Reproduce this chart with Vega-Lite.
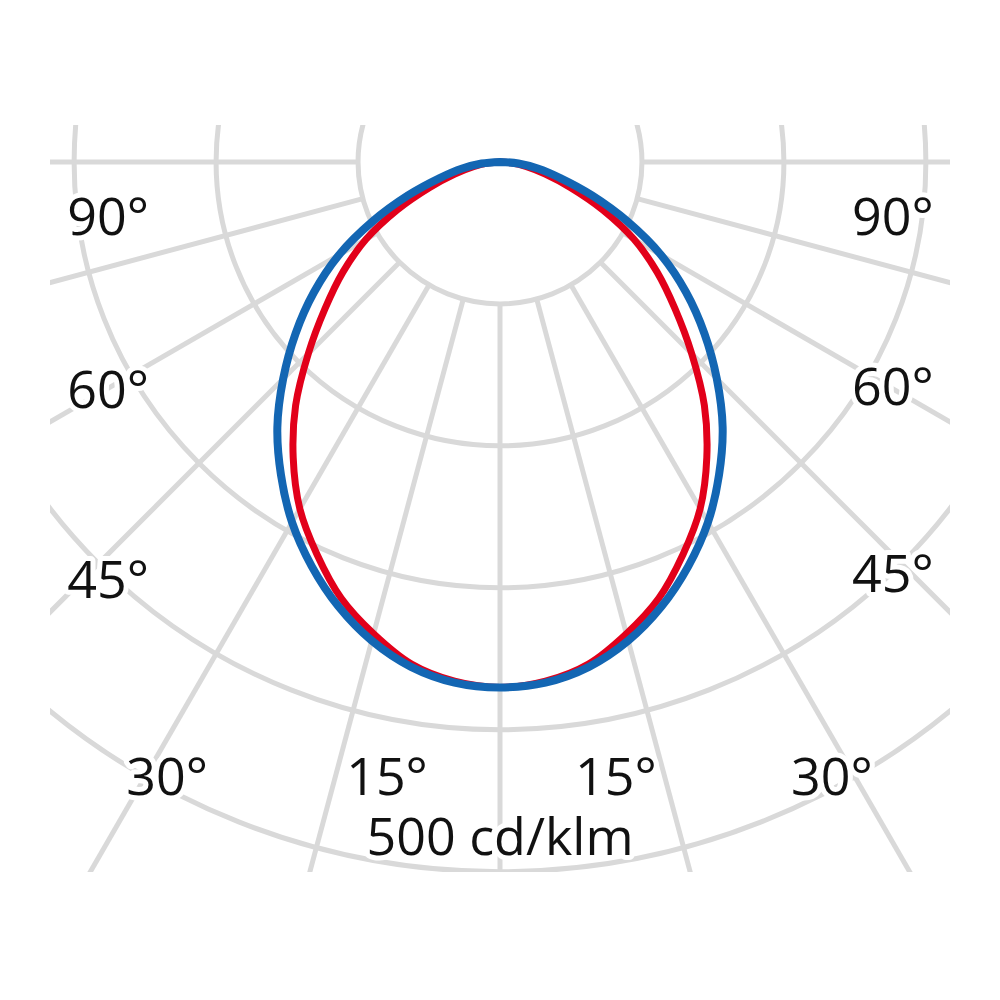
{
  "$schema": "https://vega.github.io/schema/vega-lite/v6.json",
  "width": 900,
  "height": 747,
  "autosize": {"type": "none"},
  "padding": {"left": 50, "top": 125, "right": 50, "bottom": 128},
  "background": "white",
  "config": {"view": {"stroke": null}},
  "datasets": {
    "curves": [
      {"s": "red", "a": -90, "i": 0}, {"s": "red", "a": -85, "i": 8}, {"s": "red", "a": -80, "i": 19}, {"s": "red", "a": -75, "i": 33},
      {"s": "red", "a": -70, "i": 53}, {"s": "red", "a": -65, "i": 80}, {"s": "red", "a": -60, "i": 109}, {"s": "red", "a": -55, "i": 135},
      {"s": "red", "a": -50, "i": 161}, {"s": "red", "a": -45, "i": 191}, {"s": "red", "a": -40, "i": 224}, {"s": "red", "a": -35, "i": 254},
      {"s": "red", "a": -30, "i": 282}, {"s": "red", "a": -25, "i": 305}, {"s": "red", "a": -20, "i": 327}, {"s": "red", "a": -15, "i": 344},
      {"s": "red", "a": -10, "i": 359}, {"s": "red", "a": -5, "i": 367}, {"s": "red", "a": 0, "i": 370}, {"s": "red", "a": 5, "i": 367},
      {"s": "red", "a": 10, "i": 359}, {"s": "red", "a": 15, "i": 344}, {"s": "red", "a": 20, "i": 327}, {"s": "red", "a": 25, "i": 305},
      {"s": "red", "a": 30, "i": 282}, {"s": "red", "a": 35, "i": 254}, {"s": "red", "a": 40, "i": 224}, {"s": "red", "a": 45, "i": 191},
      {"s": "red", "a": 50, "i": 161}, {"s": "red", "a": 55, "i": 135}, {"s": "red", "a": 60, "i": 109}, {"s": "red", "a": 65, "i": 80},
      {"s": "red", "a": 70, "i": 53}, {"s": "red", "a": 75, "i": 33}, {"s": "red", "a": 80, "i": 19}, {"s": "red", "a": 85, "i": 8},
      {"s": "red", "a": 90, "i": 0},
      {"s": "blue", "a": -90, "i": 0}, {"s": "blue", "a": -85, "i": 13}, {"s": "blue", "a": -80, "i": 27}, {"s": "blue", "a": -75, "i": 44},
      {"s": "blue", "a": -70, "i": 69}, {"s": "blue", "a": -65, "i": 99}, {"s": "blue", "a": -60, "i": 131}, {"s": "blue", "a": -55, "i": 160},
      {"s": "blue", "a": -50, "i": 188}, {"s": "blue", "a": -45, "i": 216}, {"s": "blue", "a": -40, "i": 244}, {"s": "blue", "a": -35, "i": 269},
      {"s": "blue", "a": -30, "i": 293}, {"s": "blue", "a": -25, "i": 314}, {"s": "blue", "a": -20, "i": 333}, {"s": "blue", "a": -15, "i": 349},
      {"s": "blue", "a": -10, "i": 361}, {"s": "blue", "a": -5, "i": 368}, {"s": "blue", "a": 0, "i": 370}, {"s": "blue", "a": 5, "i": 368},
      {"s": "blue", "a": 10, "i": 361}, {"s": "blue", "a": 15, "i": 349}, {"s": "blue", "a": 20, "i": 333}, {"s": "blue", "a": 25, "i": 314},
      {"s": "blue", "a": 30, "i": 293}, {"s": "blue", "a": 35, "i": 269}, {"s": "blue", "a": 40, "i": 244}, {"s": "blue", "a": 45, "i": 216},
      {"s": "blue", "a": 50, "i": 188}, {"s": "blue", "a": 55, "i": 160}, {"s": "blue", "a": 60, "i": 131}, {"s": "blue", "a": 65, "i": 99},
      {"s": "blue", "a": 70, "i": 69}, {"s": "blue", "a": 75, "i": 44}, {"s": "blue", "a": 80, "i": 27}, {"s": "blue", "a": 85, "i": 13},
      {"s": "blue", "a": 90, "i": 0}
    ],
    "rings": [{"r": 100}, {"r": 200}, {"r": 300}, {"r": 400}, {"r": 500}],
    "spokes": [
      {"a": -90}, {"a": -75}, {"a": -60}, {"a": -45}, {"a": -30}, {"a": -15}, {"a": 0},
      {"a": 15}, {"a": 30}, {"a": 45}, {"a": 60}, {"a": 75}, {"a": 90}
    ],
    "labels": [
      {"t": "90°", "lx": -276.1, "ly": -51.4},
      {"t": "60°", "lx": -276.1, "ly": -173.2},
      {"t": "45°", "lx": -276.1, "ly": -307},
      {"t": "30°", "lx": -234.5, "ly": -445.8},
      {"t": "15°", "lx": -79.6, "ly": -445.8},
      {"t": "500 cd/klm", "lx": 0, "ly": -488},
      {"t": "15°", "lx": 81.7, "ly": -445.8},
      {"t": "30°", "lx": 233.8, "ly": -445.8},
      {"t": "45°", "lx": 276.8, "ly": -302.8},
      {"t": "60°", "lx": 276.8, "ly": -171.1},
      {"t": "90°", "lx": 276.8, "ly": -51.4}
    ]
  },
  "layer": [
    {
      "data": {"name": "rings"},
      "mark": {"type": "arc", "filled": false, "stroke": "#d9d9d9", "strokeWidth": 5, "theta": 0, "theta2": 6.2832, "clip": true},
      "encoding": {
        "x": {"datum": 0, "type": "quantitative", "scale": {"domain": [-317, 317]}, "axis": null},
        "y": {"datum": 0, "type": "quantitative", "scale": {"domain": [-500, 26]}, "axis": null},
        "radius": {"field": "r", "type": "quantitative", "stack": null, "scale": {"type": "linear", "domain": [0, 100], "range": [0, 141.96]}}
      }
    },
    {
      "data": {"name": "spokes"},
      "transform": [
        {"calculate": "100*sin(datum.a*PI/180)", "as": "x1"},
        {"calculate": "-100*cos(datum.a*PI/180)", "as": "y1"},
        {"calculate": "800*sin(datum.a*PI/180)", "as": "x2"},
        {"calculate": "-800*cos(datum.a*PI/180)", "as": "y2"}
      ],
      "mark": {"type": "rule", "stroke": "#d9d9d9", "strokeWidth": 5, "clip": true},
      "encoding": {
        "x": {"field": "x1", "type": "quantitative", "scale": {"domain": [-317, 317]}, "axis": null},
        "y": {"field": "y1", "type": "quantitative", "scale": {"domain": [-500, 26]}, "axis": null},
        "x2": {"field": "x2"},
        "y2": {"field": "y2"}
      }
    },
    {
      "data": {"name": "curves"},
      "transform": [
        {"filter": "datum.s === 'red'"},
        {"calculate": "datum.i*sin(datum.a*PI/180)", "as": "x"},
        {"calculate": "-datum.i*cos(datum.a*PI/180)", "as": "y"}
      ],
      "mark": {"type": "line", "stroke": "#e2001a", "strokeWidth": 7, "interpolate": "catmull-rom", "strokeCap": "round", "strokeJoin": "round", "clip": true},
      "encoding": {
        "x": {"field": "x", "type": "quantitative", "scale": {"domain": [-317, 317]}, "axis": null},
        "y": {"field": "y", "type": "quantitative", "scale": {"domain": [-500, 26]}, "axis": null},
        "order": {"field": "a", "type": "quantitative"}
      }
    },
    {
      "data": {"name": "curves"},
      "transform": [
        {"filter": "datum.s === 'blue'"},
        {"calculate": "datum.i*sin(datum.a*PI/180)", "as": "x"},
        {"calculate": "-datum.i*cos(datum.a*PI/180)", "as": "y"}
      ],
      "mark": {"type": "line", "stroke": "#1366b3", "strokeWidth": 8, "interpolate": "catmull-rom", "strokeCap": "round", "strokeJoin": "round", "clip": true},
      "encoding": {
        "x": {"field": "x", "type": "quantitative", "scale": {"domain": [-317, 317]}, "axis": null},
        "y": {"field": "y", "type": "quantitative", "scale": {"domain": [-500, 26]}, "axis": null},
        "order": {"field": "a", "type": "quantitative"}
      }
    },
    {
      "data": {"name": "labels"},
      "mark": {"type": "text", "font": "Open Sans", "fontSize": 52, "align": "center", "baseline": "alphabetic", "fill": "white", "stroke": "white", "strokeWidth": 10, "strokeJoin": "round"},
      "encoding": {
        "x": {"field": "lx", "type": "quantitative", "scale": {"domain": [-317, 317]}, "axis": null},
        "y": {"field": "ly", "type": "quantitative", "scale": {"domain": [-500, 26]}, "axis": null},
        "text": {"field": "t"}
      }
    },
    {
      "data": {"name": "labels"},
      "mark": {"type": "text", "font": "Open Sans", "fontSize": 52, "align": "center", "baseline": "alphabetic", "fill": "#111111"},
      "encoding": {
        "x": {"field": "lx", "type": "quantitative", "scale": {"domain": [-317, 317]}, "axis": null},
        "y": {"field": "ly", "type": "quantitative", "scale": {"domain": [-500, 26]}, "axis": null},
        "text": {"field": "t"}
      }
    }
  ]
}
